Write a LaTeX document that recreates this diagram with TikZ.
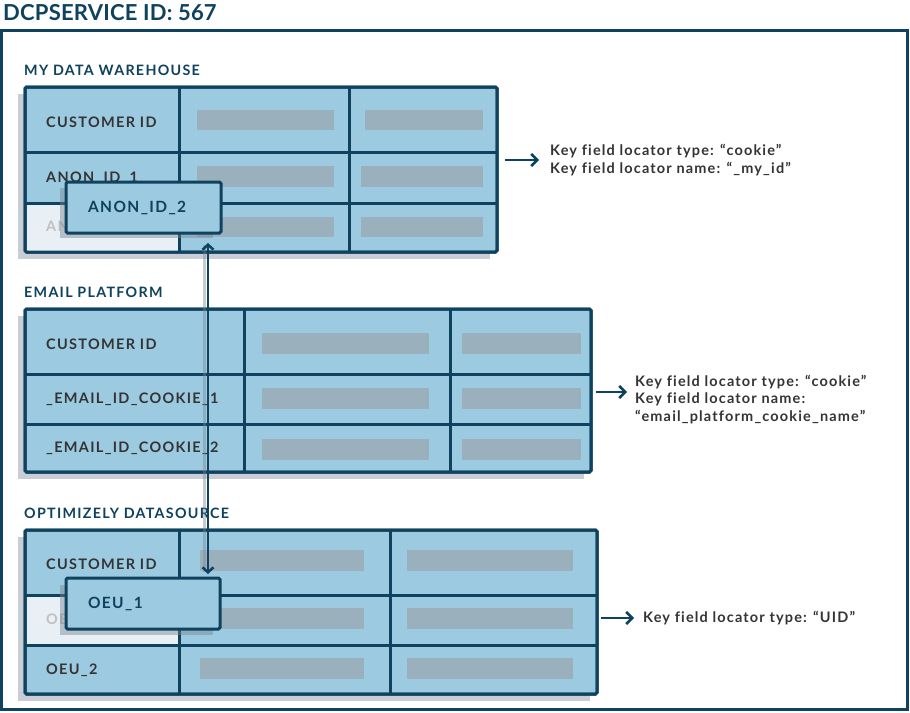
\documentclass[tikz,border=0pt]{standalone}
\usepackage{fontspec}
\setmainfont{Lato}
\newfontfamily\labfont[LetterSpace=9,Ligatures=NoCommon]{Lato}
\newfontfamily\descfont[LetterSpace=8,Ligatures=NoCommon]{Lato}
\newfontfamily\titlefont[LetterSpace=1,Ligatures=NoCommon]{Lato}
\usetikzlibrary{arrows.meta,calc}
\definecolor{navy}{RGB}{14,66,94}
\definecolor{cellblue}{RGB}{156,203,225}
\definecolor{bargray}{RGB}{154,177,189}
\definecolor{shade}{RGB}{201,206,214}
\definecolor{ghostcell}{RGB}{232,240,246}
\definecolor{txt}{RGB}{52,52,52}
\definecolor{ghosttxt}{RGB}{192,192,192}
\definecolor{cardshade}{RGB}{120,132,142}
\tikzset{
  tablebox/.style={draw=navy, line width=3pt, rounded corners=1.5pt, fill=cellblue,
    inner sep=0pt, outer sep=0pt, anchor=north west},
  gridline/.style={draw=navy, line width=3pt},
  bar/.style={fill=bargray},
  tshadow/.style={fill=shade},
  cshadow/.style={fill=cardshade, fill opacity=0.45},
  rowlab/.style={anchor=west, inner sep=0pt, text=txt,
    font=\labfont\bfseries\fontsize{14.5}{16}\selectfont},
  ghostlab/.style={rowlab, text=ghosttxt},
  seclab/.style={anchor=west, inner sep=0pt, text=navy,
    font=\labfont\bfseries\fontsize{14.3}{16}\selectfont},
  card/.style={draw=navy, line width=3pt, rounded corners=1.5pt, fill=cellblue,
    anchor=north west, outer sep=0pt, inner ysep=0pt, inner xsep=22pt, align=left,
    text=navy, font=\labfont\bfseries\fontsize{15.5}{17}\selectfont},
  desc/.style={inner sep=0pt, text=txt, align=left,
    font=\descfont\bfseries\fontsize{14.5}{17.3}\selectfont},
  harrow/.style={draw=navy, line width=2.5pt, -{Straight Barb[length=6pt,width=12pt]}},
  varrow/.style={draw=navy, line width=2.5pt,
    {Straight Barb[length=5pt,width=11pt]}-{Straight Barb[length=5pt,width=11pt]}},
  vshadow/.style={draw=cardshade, draw opacity=0.4, line width=3pt},
}
\begin{document}
\begin{tikzpicture}[x=1pt,y=-1pt]
\useasboundingbox (0,0) rectangle (910,712);
\fill[white] (0,0) rectangle (910,712);

% title and frame
\node[anchor=west, inner sep=0pt, text=navy, font=\titlefont\bfseries\fontsize{22}{24}\selectfont]
  (title) at (3,13) {DCPSERVICE ID: 567};
\draw[navy, line width=3pt] (1.5,30) rectangle (907.5,709.5);

% ---------------- table A ----------------
\node[seclab] (secA) at (24,70) {MY DATA WAREHOUSE};
\fill[tshadow] (18,94) rectangle (490,259);
\node[tablebox, minimum width=472pt, minimum height=165pt] (tblA) at (25,87) {};
\fill[ghostcell] (26.5,203) rectangle (179,250.5);
\fill[bar] (197,110) rectangle (334,130);
\fill[bar] (365,110) rectangle (483,130);
\fill[bar] (197,166) rectangle (334,187);
\fill[bar] (361,166) rectangle (483,187);
\fill[bar] (197,217) rectangle (334,237);
\fill[bar] (361,217) rectangle (483,237);
\draw[gridline] (179,87) -- (179,252);
\draw[gridline] (349,87) -- (349,252);
\draw[gridline] (25,152) -- (497,152);
\draw[gridline] (25,203) -- (497,203);
\draw[navy, line width=3pt, rounded corners=1.5pt] (25,87) rectangle (497,252);
\node[rowlab] (a1) at (46,122) {CUSTOMER ID};
\node[rowlab] (a2) at (46,178) {ANON\_ID\_1};
\node[ghostlab] (a3) at (46,227.5) {ANON\_ID\_2};
\fill[cshadow] (60,188) rectangle (213,238);
\node[card, minimum width=155pt, minimum height=51pt, text width=111pt] (cardA) at (66,182) {ANON\_ID\_2};

\node[desc, anchor=west] (descA) at (550,160) {Key field locator type: “cookie”\\Key field locator name: “\_my\_id”};
\draw[harrow] ($(tblA.east |- descA.west)+(8,0)$) -- ($(descA.west)+(-11,0)$);

% ---------------- table B ----------------
\node[seclab] (secB) at (24,292) {EMAIL PLATFORM};
\fill[tshadow] (18,316) rectangle (584,479);
\node[tablebox, minimum width=566pt, minimum height=163pt] (tblB) at (25,309) {};
\fill[bar] (262,333) rectangle (429,354);
\fill[bar] (462,333) rectangle (581,354);
\fill[bar] (262,388) rectangle (429,409);
\fill[bar] (462,388) rectangle (581,409);
\fill[bar] (262,439) rectangle (429,460);
\fill[bar] (462,439) rectangle (581,460);
\draw[gridline] (244.5,309) -- (244.5,472);
\draw[gridline] (450,309) -- (450,472);
\draw[gridline] (25,374) -- (591,374);
\draw[gridline] (25,424.5) -- (591,424.5);
\draw[navy, line width=3pt, rounded corners=1.5pt] (25,309) rectangle (591,472);
\node[rowlab] (b1) at (46,344) {CUSTOMER ID};
\node[rowlab] (b2) at (46,399) {\_EMAIL\_ID\_COOKIE\_1};
\node[rowlab] (b3) at (46,448) {\_EMAIL\_ID\_COOKIE\_2};

\node[desc, anchor=north west] (descB) at (635,375) {Key field locator type: “cookie”\\Key field locator name:\\“email\_platform\_cookie\_name”};
\coordinate (bmid) at (611,392);
\draw[harrow] ($(tblB.east |- bmid)+(5,0)$) -- ($(descB.west |- bmid)+(-8,0)$);

% ---------------- table C ----------------
\node[seclab] (secC) at (24,513) {OPTIMIZELY DATASOURCE};
\fill[tshadow] (18,537) rectangle (590,701);
\node[tablebox, minimum width=572pt, minimum height=164pt] (tblC) at (25,530) {};
\fill[ghostcell] (26.5,595) rectangle (179,645);
\fill[bar] (200,550) rectangle (364,571);
\fill[bar] (407,550) rectangle (573,571);
\fill[bar] (200,608) rectangle (364,629);
\fill[bar] (407,608) rectangle (573,629);
\fill[bar] (200,658) rectangle (364,679);
\fill[bar] (407,658) rectangle (573,679);
\draw[gridline] (179,530) -- (179,694);
\draw[gridline] (390,530) -- (390,694);
\draw[gridline] (25,595) -- (597,595);
\draw[gridline] (25,645.5) -- (597,645.5);
\draw[navy, line width=3pt, rounded corners=1.5pt] (25,530) rectangle (597,694);
\node[rowlab] (c1) at (46,564) {CUSTOMER ID};
\node[ghostlab] (c2) at (46,620) {OEU\_1};
\node[rowlab] (c3) at (46,670) {OEU\_2};
\fill[cshadow] (60,585) rectangle (213,635);
\node[card, minimum width=154pt, minimum height=51pt, text width=110pt] (cardC) at (66,578) {OEU\_1};

\node[desc, anchor=west] (descC) at (643,618) {Key field locator type: “UID”};
\draw[harrow] ($(tblC.east |- descC.west)+(4,0)$) -- ($(descC.west)+(-9,0)$);

% ---------------- vertical connector ----------------
\draw[vshadow] ($(cardA.south east)+(-16.5,12)$) -- ($(cardC.north east)+(-15.5,-6)$);
\draw[varrow] ($(cardA.south east)+(-13,10)$) -- ($(cardC.north east)+(-12,-4)$);
\end{tikzpicture}
\end{document}
